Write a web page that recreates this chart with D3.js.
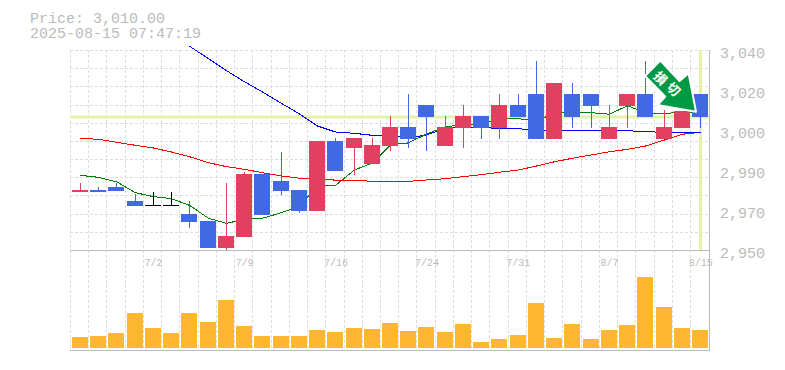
<!DOCTYPE html>
<html>
<head>
<meta charset="utf-8">
<script src="https://cdn.jsdelivr.net/npm/d3@7"></script>
<style>
    html, body { margin: 0; padding: 0; background: #fff; }
    svg { display: block; }
    text { font-family: "Liberation Mono", "DejaVu Sans Mono", monospace; fill: #bbb; }
</style>
</head>
<body>
<div id="chart"></div>
<script>
// header
const titleLines = ["Price: 3,010.00", "2025-08-15 07:47:19"];
const lastPrice = 3010;

const dates = ["6/26","6/27","6/30","7/1","7/2","7/3","7/4","7/7","7/8","7/9","7/10","7/11","7/14","7/15","7/16","7/17","7/18",
    "7/22","7/23","7/24","7/25","7/28","7/29","7/30","7/31","8/1","8/4","8/5","8/6","8/7","8/8","8/12","8/13","8/14","8/15"];
const dateTicks = ["7/2","7/9","7/16","7/24","7/31","8/7","8/15"];

// candles
const open = [2976,2977,2978.4,2972,2970.1,2970.1,2966.2,2963,2950.9,2955.9,2984.2,2981,2977,2967.6,2999,2995.9,2988.7,
    2996.8,3005.4,3015.3,2996.8,3004.9,3010.3,3004.9,3015.3,3020.2,3000,3020.2,3020.2,3000,3014.8,3020.2,3000,3004.9,3020.2];
const close = [2977,2976,2976.6,2969.8,2970.1,2970.1,2962.6,2950.9,2956.3,2984.2,2965.8,2976.6,2967.6,2999,2985.6,3000.4,2997.3,
    3005.4,3000,3009.9,3005.4,3010.3,3004.9,3015.3,3009.9,3000,3025.2,3009.9,3014.8,3005.4,3020.2,3009.9,3005.4,3012.5,3010];
const high = [2980.2,2978.4,2980.3,2975.2,2976.1,2976.1,2972,2963,2980.2,2985,2984.2,2994.1,2977,2999,3000.4,3000.4,3000.4,
    3010.3,3020.2,3015.3,3010.3,3015.3,3010.3,3020.2,3020.2,3035,3025.2,3025.2,3020.2,3015.3,3020.2,3035,3013,3012.5,3020.2];
const low = [2976,2976,2976.6,2969.8,2970.1,2970.1,2959.9,2950.9,2950,2955.9,2965.8,2974.8,2966.7,2967.6,2985.6,2983.8,2988.7,
    2994.6,2995.9,2994.6,2996.8,2995.9,3000,3000,3009.9,3000,3000,3004.9,3004.9,3000,3004.9,3009.9,3000,3004.9,3004.9];

// moving averages
const maShort = [2983.6,2982.7,2980.7,2975.8,2974,2973.1,2970.1,2964.3,2962,2963.8,2964.3,2966.8,2969.8,2979,2979.1,2986,2989.2,
    2997.3,2998.2,3002.2,3005.5,3006.3,3006.3,3009.4,3009.1,3008,3011.7,3011.8,3011.8,3011.1,3014.9,3011.7,3011.5,3011.9,3012.1];
const maMid = [null,null,null,null,null,null,3041.7,3036.1,3030.7,3025.7,3021.1,3016,3011.2,3005.8,3003.1,3002.5,3001.6,
    3001.3,3000.4,3001.8,3004.8,3005.5,3005,3004.8,3004.6,3003.9,3003.9,3003.9,3003.9,3003.9,3003.7,3003.2,3003,3002.8,3002.8];
const maLong = [3000.3,2999.8,2998.5,2997.1,2995.9,2994.1,2992,2989.3,2987.5,2986.3,2984.8,2983.3,2982.3,2982.3,2981.4,2981.4,2980.9,
    2980.9,2980.9,2981.5,2982.1,2983,2983.9,2985,2986,2987.8,2989.7,2991.3,2992.8,2994.2,2995.3,2996.8,2999.5,3002.1,3003];

const volume = [1100,1200,1500,3500,2000,1500,3500,2600,4800,2200,1200,1200,1200,1800,1600,2000,1900,
    2500,1700,2100,1600,2400,600,900,1300,4500,1000,2400,900,1800,2300,7100,4100,2000,1800];

// right axis: ticks are evenly spaced, the labels are rounded to 10
const priceTicks = [3040,3022,3004,2986,2968,2950];
const priceLabels = ["3,040","3,020","3,000","2,990","2,970","2,950"];

const signalLabel = ["損","切"];

const width = 785, height = 370;
const plot = {left: 70, right: 710, top: 50, mid: 250, bottom: 350};

const svg = d3.select("#chart").append("svg")
    .attr("width", width)
    .attr("height", height);

const x = d3.scaleBand().domain(dates).range([71.4, 709.8]);
const y = d3.scaleLinear().domain([2950, 3040]).range([plot.mid, plot.top]);
const yVol = d3.scaleLinear().domain([0, 7100]).range([348, 277]);

const left = d => Math.floor(x(d)) + 1;
const mid = d => left(d) + 8.5;

// title
svg.selectAll(".title")
    .data(titleLines)
    .enter().append("text")
    .attr("class", "title")
    .attr("x", 30)
    .attr("y", (d, i) => 23 + i * 15)
    .attr("font-size", 15)
    .text(d => d);

// grid
const hGrid = d3.range(12).map(k => 2950 + k * 90 / 11);
svg.append("g").selectAll("line")
    .data(hGrid)
    .enter().append("line")
    .attr("x1", plot.left)
    .attr("x2", plot.right)
    .attr("y1", d => Math.round(y(d)) + 0.5)
    .attr("y2", d => Math.round(y(d)) + 0.5)
    .attr("stroke", "#ddd")
    .attr("stroke-dasharray", "3,2");

svg.append("g").selectAll("line")
    .data(dates)
    .enter().append("line")
    .attr("x1", d => left(d) - 1.5)
    .attr("x2", d => left(d) - 1.5)
    .attr("y1", plot.top)
    .attr("y2", plot.bottom)
    .attr("stroke", "#ddd")
    .attr("stroke-dasharray", "3,2");

// current price cross
svg.append("line")
    .attr("x1", plot.left)
    .attr("x2", plot.right)
    .attr("y1", Math.round(y(lastPrice)))
    .attr("y2", Math.round(y(lastPrice)))
    .attr("stroke", "#e3f4a8")
    .attr("stroke-width", 3);
svg.append("line")
    .attr("x1", mid(dates[34]))
    .attr("x2", mid(dates[34]))
    .attr("y1", plot.top)
    .attr("y2", plot.mid)
    .attr("stroke", "#e3f4a8")
    .attr("stroke-width", 3);

// frame
svg.append("path")
    .attr("d", `M${plot.left},${plot.mid + 0.5}H${plot.right}M${plot.left},${plot.bottom + 0.5}H${plot.right}M${plot.right - 0.5},${plot.top}V${plot.bottom + 1}`)
    .attr("fill", "none")
    .attr("stroke", "#bbb");

// moving averages
const line = d3.line()
    .defined(d => d.v !== null)
    .x(d => mid(d.date))
    .y(d => y(d.v));

[[maLong, "#ff0000"], [maMid, "#0000ff"], [maShort, "#008000"]].forEach(function(ma){
    svg.append("path")
        .datum(ma[0].map((v, i) => ({date: dates[i], v: v})))
        .attr("d", line)
        .attr("fill", "none")
        .attr("stroke", ma[1])
        .attr("stroke-width", 1)
        .attr("shape-rendering", "crispEdges");
});

// candles
const candles = dates.map((date, i) => ({date: date, o: open[i], c: close[i], h: high[i], l: low[i]}));
const candleColor = d => d.c > d.o ? "#e24060" : d.c < d.o ? "#4169e1" : "#000";

svg.append("g").selectAll("line")
    .data(candles)
    .enter().append("line")
    .attr("x1", d => mid(d.date))
    .attr("x2", d => mid(d.date))
    .attr("y1", d => Math.round(y(d.h)))
    .attr("y2", d => Math.round(y(d.l)))
    .attr("stroke", candleColor)
    .attr("shape-rendering", "crispEdges");

svg.append("g").selectAll("rect")
    .data(candles)
    .enter().append("rect")
    .attr("x", d => left(d.date))
    .attr("y", d => Math.round(y(Math.max(d.o, d.c))))
    .attr("width", 16)
    .attr("height", d => Math.max(1, Math.round(y(Math.min(d.o, d.c))) - Math.round(y(Math.max(d.o, d.c)))))
    .attr("fill", candleColor);

// volume
svg.append("g").selectAll("rect")
    .data(volume)
    .enter().append("rect")
    .attr("x", (d, i) => left(dates[i]))
    .attr("y", d => Math.round(yVol(d)))
    .attr("width", 16)
    .attr("height", d => yVol(0) - Math.round(yVol(d)))
    .attr("fill", "#ffb732");

// axes
const yAxis = d3.axisRight(y)
    .tickValues(priceTicks)
    .tickFormat((d, i) => priceLabels[i])
    .tickSize(0)
    .tickPadding(0);
const yAxisG = svg.append("g")
    .attr("transform", `translate(720,3)`)
    .call(yAxis);
yAxisG.select(".domain").remove();
yAxisG.selectAll("text").attr("font-size", 15).attr("fill", "#bbb").attr("font-family", null);

const xAxis = d3.axisBottom(x)
    .tickValues(dateTicks)
    .tickSize(0)
    .tickPadding(0);
const xAxisG = svg.append("g")
    .attr("transform", `translate(0,${plot.mid + 9})`)
    .call(xAxis);
xAxisG.select(".domain").remove();
xAxisG.selectAll("text").attr("font-size", 10).attr("fill", "#bbb").attr("font-family", null);

// signal arrow, hung from its tip near the last candles
const tipX = mid(dates[33]) + 13.5;
const tipY = y(lastPrice) - 5;
const arrowShape = [[-35.7,-51],[-51,-35.7],[-30.7,-15],[-38.4,-6.7],[0,0],[-7.4,-38.4],[-16.4,-30.7]];
const arrow = svg.append("g").attr("transform", `translate(${tipX},${tipY})`);
arrow.append("polygon")
    .attr("points", arrowShape.join(" "))
    .attr("fill", "#009944")
    .attr("stroke", "#fff")
    .attr("stroke-width", 2)
    .attr("stroke-linejoin", "round");
arrow.selectAll(".signal")
    .data(signalLabel)
    .enter().append("text")
    .attr("class", "signal")
    .attr("transform", (d, i) => `translate(${-35.5 + i * 13},${-33.5 + i * 11}) rotate(45)`)
    .attr("text-anchor", "middle")
    .attr("dy", "0.36em")
    .attr("font-size", 13)
    .style("font-family", '"Noto Sans CJK JP", sans-serif')
    .style("font-weight", "bold")
    .style("fill", "#fff")
    .text(d => d);
</script>
</body>
</html>
